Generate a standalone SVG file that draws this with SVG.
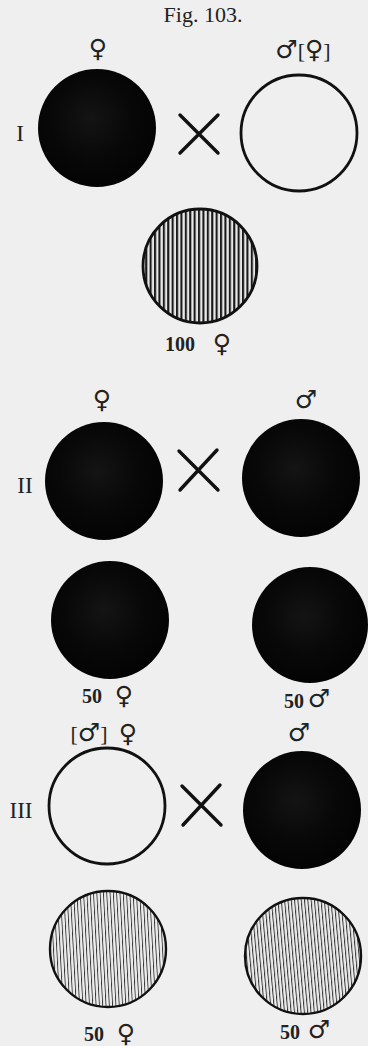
<svg xmlns="http://www.w3.org/2000/svg" width="368" height="1046" viewBox="0 0 368 1046">
<style>
.bg{fill:#efefef}
.dark{fill:url(#dk)}
.open{fill:none;stroke:#111;stroke-width:2.8}
.hatchA{fill:url(#hA);stroke:#111;stroke-width:2.8}
.hatchB{fill:url(#hB);stroke:#111;stroke-width:2.4}
.hatchC{fill:url(#hC);stroke:#111;stroke-width:2.4}
.cross{stroke:#111;stroke-width:3.4;stroke-linecap:round;fill:none}
.t{font-family:"Liberation Serif","DejaVu Serif",serif;fill:#222}
.sym{font-family:"DejaVu Sans",sans-serif;fill:#222;font-size:25px}
.num{font-family:"Liberation Serif","DejaVu Serif",serif;font-weight:bold;fill:#222;font-size:20px}
.roman{font-family:"Liberation Serif","DejaVu Serif",serif;fill:#222;font-size:23px}
</style>
<defs>
<radialGradient id="dk" cx="0.45" cy="0.42" r="0.55">
<stop offset="0" stop-color="#141414"/>
<stop offset="0.6" stop-color="#080808"/>
<stop offset="1" stop-color="#040404"/>
</radialGradient>
<pattern id="hA" width="4.4" height="10" patternUnits="userSpaceOnUse">
<rect width="4.4" height="10" fill="#e8e8e8"/>
<rect x="0" y="0" width="2.1" height="10" fill="#1a1a1a"/>
</pattern>
<pattern id="hB" width="3.3" height="10" patternUnits="userSpaceOnUse" patternTransform="rotate(-3)">
<rect width="3.3" height="10" fill="#ececec"/>
<rect x="0" y="0" width="0.9" height="10" fill="#333"/>
</pattern>
<pattern id="hC" width="3.3" height="10" patternUnits="userSpaceOnUse" patternTransform="rotate(-5)">
<rect width="3.3" height="10" fill="#ececec"/>
<rect x="0" y="0" width="1" height="10" fill="#333"/>
</pattern>
</defs>
<rect class="bg" x="0" y="0" width="368" height="1046"/>
<text class="t" x="203" y="22" font-size="22" text-anchor="middle">Fig. 103.</text>

<g id="row1-left">
<text class="roman" x="20" y="141" text-anchor="middle">I</text>
<text class="sym" x="98" y="57" text-anchor="middle">♀</text>
<circle class="dark" cx="97" cy="128" r="59"/>
</g>
<g id="row1-right">
<text class="t" x="303" y="58" font-size="22" text-anchor="middle"><tspan class="sym">♂</tspan>[<tspan class="sym">♀</tspan>]</text>
<circle class="open" cx="299" cy="133" r="58"/>
</g>
<g id="row1-child">
<circle class="hatchA" cx="200" cy="266" r="57"/>
<text class="num" x="180" y="351" text-anchor="middle">100</text>
<text class="sym" x="222" y="352" text-anchor="middle">♀</text>
</g>

<g id="row2-left">
<text class="roman" x="25" y="493" text-anchor="middle">II</text>
<text class="sym" x="102" y="408" text-anchor="middle">♀</text>
<circle class="dark" cx="104" cy="481" r="59"/>
</g>
<g id="row2-right">
<text class="sym" x="306" y="408" text-anchor="middle">♂</text>
<circle class="dark" cx="301" cy="478" r="59"/>
</g>
<g id="row2-child-f">
<circle class="dark" cx="110" cy="620" r="59"/>
<text class="num" x="92" y="703" text-anchor="middle">50</text>
<text class="sym" x="124" y="704" text-anchor="middle">♀</text>
</g>
<g id="row2-child-m">
<circle class="dark" cx="310" cy="625" r="58"/>
<text class="num" x="294" y="708" text-anchor="middle">50</text>
<text class="sym" x="319" y="707" text-anchor="middle">♂</text>
</g>

<g id="row3-left">
<text class="roman" x="21" y="818" text-anchor="middle">III</text>
<text class="t" x="89" y="741" font-size="22" text-anchor="middle">[<tspan class="sym">♂</tspan>]</text>
<text class="sym" x="128" y="742" text-anchor="middle">♀</text>
<circle class="open" cx="107" cy="806" r="58"/>
</g>
<g id="row3-right">
<text class="sym" x="299" y="741" text-anchor="middle">♂</text>
<circle class="dark" cx="302" cy="810" r="59"/>
</g>
<g id="row3-child-f">
<circle class="hatchB" cx="108" cy="949" r="58"/>
<text class="num" x="94" y="1041" text-anchor="middle">50</text>
<text class="sym" x="126" y="1042" text-anchor="middle">♀</text>
</g>
<g id="row3-child-m">
<circle class="hatchC" cx="303" cy="956" r="58"/>
<text class="num" x="290" y="1039" text-anchor="middle">50</text>
<text class="sym" x="319" y="1038" text-anchor="middle">♂</text>
</g>

<g id="connectors">
<path class="cross" d="M180,115 L218,153 M218,115 L180,153"/>
<path class="cross" d="M179,451 L218,490 M217,450 L180,490"/>
<path class="cross" d="M182,786 L221,825 M220,785 L183,825"/>
</g>
</svg>
